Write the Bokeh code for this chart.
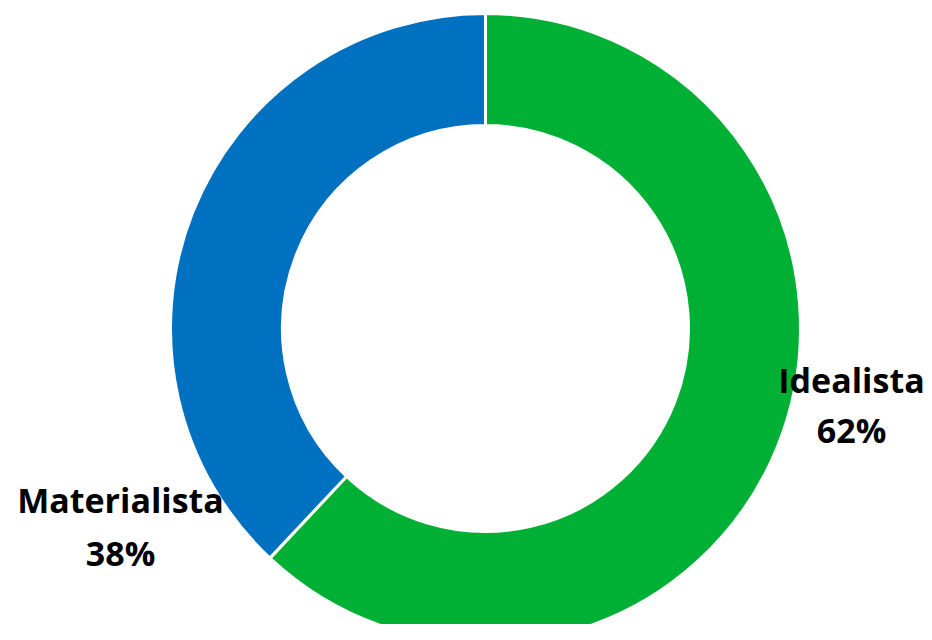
import math
from bokeh.plotting import figure
from bokeh.models import Range1d, ColumnDataSource
from bokeh.core.properties import value
from bokeh.embed import file_html
from bokeh.resources import INLINE

categories = ["Idealista", "Materialista"]
shares = [62, 38]
colors = ["#00B035", "#0070C0"]

W, H = 924, 624
p = figure(width=W, height=H, output_backend="svg", toolbar_location=None,
           x_range=Range1d(0, W), y_range=Range1d(640 - H, 640),
           min_border=0, outline_line_color=None)
p.axis.visible = False
p.grid.visible = False
p.background_fill_color = "white"
p.border_fill_color = "white"

cx, cy = 485, 312
r_out, r_in = 315, 203

total = sum(shares)
starts, ends = [], []
a = math.pi / 2
for s in shares:
    starts.append(a)
    a = a - 2 * math.pi * s / total
    ends.append(a)

src = ColumnDataSource(dict(start=starts, end=ends, color=colors, cat=categories))
p.annular_wedge(x=cx, y=cy, inner_radius=r_in, outer_radius=r_out,
                start_angle="start", end_angle="end", direction="clock",
                fill_color="color", line_color="white", line_width=3, source=src)

# labels
label_x = [851, 120]
label_y1 = [261, 141]
label_y2 = [211, 88]
names = categories
pcts = [f"{s}%" for s in shares]
font = value("Open Sans")
p.text(x=label_x, y=label_y1, text=names, text_align="center", text_baseline="alphabetic",
       text_font=font, text_font_style="bold", text_font_size="34px", text_color="black")
p.text(x=label_x, y=label_y2, text=pcts, text_align="center", text_baseline="alphabetic",
       text_font=font, text_font_style="bold", text_font_size="34px", text_color="black")

open("out.html", "w").write(file_html(p, INLINE))
